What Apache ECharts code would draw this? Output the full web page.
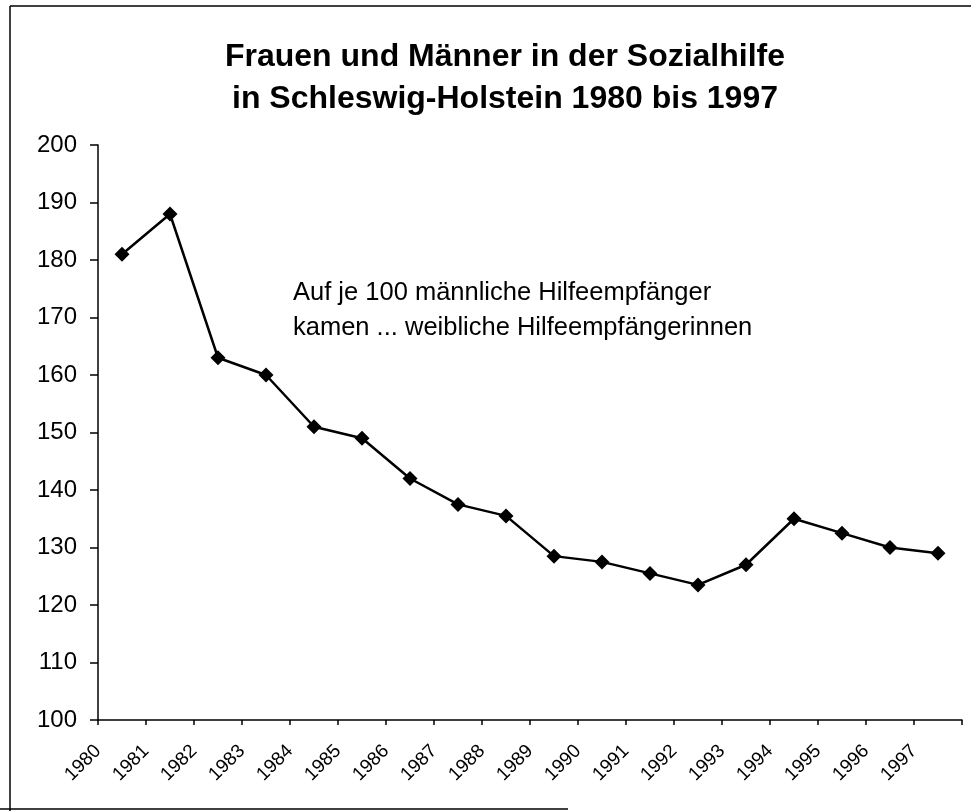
<!DOCTYPE html>
<html>
<head>
<meta charset="utf-8">
<script src="https://cdn.jsdelivr.net/npm/echarts@6/dist/echarts.min.js"></script>
<style>
  html, body { margin: 0; padding: 0; background: #fff; }
  #chart { width: 971px; height: 811px; }
</style>
</head>
<body>
<div id="chart"></div>
<script>
// Werte
const years = ['1980', '1981', '1982', '1983', '1984', '1985', '1986', '1987', '1988',
    '1989', '1990', '1991', '1992', '1993', '1994', '1995', '1996', '1997'];
const frauenJe100Maenner = [181, 188, 163, 160, 151, 149, 142, 137.5, 135.5,
    128.5, 127.5, 125.5, 123.5, 127, 135, 132.5, 130, 129];
// Beschriftung sitzt in der Vorlage an den Teilstrichen, nicht unter den Punkten
const yearLabels = years.concat(['']);
const yTicks = {min: 100, max: 200, step: 10};

const font = '"Liberation Sans", Arial, sans-serif';

const chart = echarts.init(document.getElementById('chart'));
chart.setOption({
    animation: false,
    backgroundColor: '#fff',
    title: {
        text: 'Frauen und Männer in der Sozialhilfe\nin Schleswig-Holstein 1980 bis 1997',
        left: 500,
        top: 31,
        textAlign: 'center',
        textStyle: {
            fontFamily: font,
            fontSize: 32,
            fontWeight: 'bold',
            color: '#000',
            lineHeight: 42
        }
    },
    grid: {left: 98, right: 9, top: 145, bottom: 91},
    xAxis: [
        {
            type: 'category',
            data: years,
            boundaryGap: true,
            axisLine: {lineStyle: {color: '#000', width: 1.5}},
            axisTick: {show: true, length: 5, lineStyle: {color: '#000', width: 1.5}},
            axisLabel: {show: false},
            splitLine: {show: false}
        },
        {
            type: 'category',
            data: yearLabels,
            position: 'bottom',
            boundaryGap: false,
            axisLine: {show: false},
            axisTick: {show: false},
            axisLabel: {
                interval: 0,
                rotate: 45,
                margin: 28,
                fontFamily: font,
                fontSize: 19,
                color: '#000'
            },
            splitLine: {show: false}
        }
    ],
    yAxis: {
        type: 'value',
        min: yTicks.min,
        max: yTicks.max,
        interval: yTicks.step,
        axisLine: {show: true, lineStyle: {color: '#000', width: 1.5}},
        axisTick: {show: true, length: 8, lineStyle: {color: '#000', width: 1.5}},
        axisLabel: {margin: 21, fontFamily: font, fontSize: 24, color: '#000'},
        splitLine: {show: false}
    },
    series: [{
        type: 'line',
        xAxisIndex: 0,
        data: frauenJe100Maenner,
        symbol: 'diamond',
        symbolSize: 15,
        lineStyle: {color: '#000', width: 2.5},
        itemStyle: {color: '#000'}
    }],
    graphic: [
        {
            type: 'text',
            x: 293,
            y: 275,
            style: {
                text: 'Auf je 100 männliche Hilfeempfänger\nkamen ... weibliche Hilfeempfängerinnen',
                font: '25.5px ' + font,
                lineHeight: 35,
                fill: '#000'
            }
        },
        {type: 'line', shape: {x1: 10, y1: 6, x2: 971, y2: 6}, style: {stroke: '#000', lineWidth: 1.5}},
        {type: 'line', shape: {x1: 10, y1: 6, x2: 10, y2: 811}, style: {stroke: '#000', lineWidth: 1.5}},
        {type: 'line', shape: {x1: 0, y1: 809, x2: 568, y2: 809}, style: {stroke: '#000', lineWidth: 1.5}}
    ]
});
</script>
</body>
</html>
